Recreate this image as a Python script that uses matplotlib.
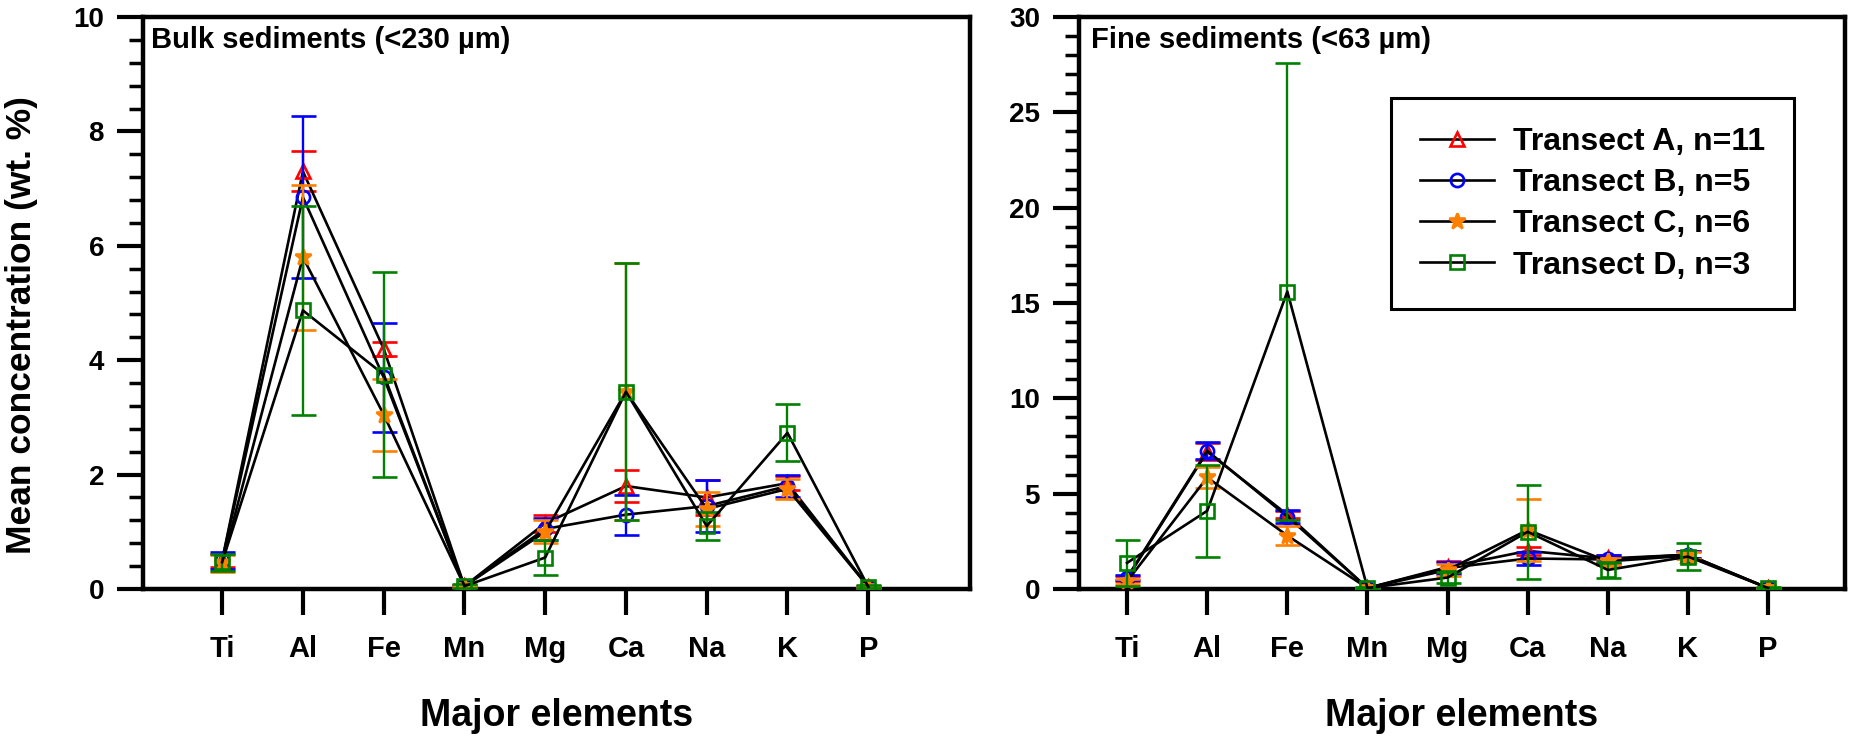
import numpy as np
import matplotlib
matplotlib.use("Agg")
import matplotlib.pyplot as plt
from matplotlib.ticker import MultipleLocator

plt.rcParams["font.family"] = ["Liberation Sans", "DejaVu Sans"]
plt.rcParams["font.weight"] = "bold"

elements = ["Ti", "Al", "Fe", "Mn", "Mg", "Ca", "Na", "K", "P"]
transects = ["Transect A, n=11", "Transect B, n=5", "Transect C, n=6", "Transect D, n=3"]

# bulk sediments (<230 um), mean and error per transect
bulk_A = [0.50, 7.30, 4.20, 0.05, 1.15, 1.80, 1.60, 1.85, 0.04]
bulk_A_err = [0.12, 0.35, 0.12, 0.02, 0.15, 0.28, 0.30, 0.12, 0.02]
bulk_B = [0.50, 6.85, 3.70, 0.05, 1.05, 1.30, 1.45, 1.80, 0.04]
bulk_B_err = [0.15, 1.42, 0.95, 0.02, 0.20, 0.35, 0.45, 0.20, 0.02]
bulk_C = [0.45, 5.80, 3.05, 0.05, 1.00, 3.45, 1.40, 1.75, 0.04]
bulk_C_err = [0.15, 1.27, 0.63, 0.02, 0.20, 2.25, 0.30, 0.18, 0.02]
bulk_D = [0.47, 4.87, 3.75, 0.05, 0.55, 3.45, 1.10, 2.73, 0.04]
bulk_D_err = [0.15, 1.82, 1.79, 0.03, 0.30, 2.25, 0.25, 0.50, 0.03]

# fine sediments (<63 um)
fine_A = [0.55, 7.20, 3.90, 0.05, 1.15, 2.00, 1.60, 1.80, 0.05]
fine_A_err = [0.15, 0.45, 0.20, 0.02, 0.30, 0.20, 0.20, 0.20, 0.02]
fine_B = [0.60, 7.25, 3.80, 0.05, 1.10, 1.60, 1.55, 1.80, 0.05]
fine_B_err = [0.15, 0.45, 0.35, 0.02, 0.30, 0.35, 0.25, 0.20, 0.02]
fine_C = [0.40, 5.85, 2.80, 0.05, 1.00, 3.10, 1.45, 1.75, 0.05]
fine_C_err = [0.15, 0.55, 0.50, 0.02, 0.30, 1.63, 0.20, 0.20, 0.02]
fine_D = [1.37, 4.10, 15.60, 0.05, 0.60, 3.00, 1.00, 1.70, 0.05]
fine_D_err = [1.20, 2.40, 12.00, 0.03, 0.30, 2.45, 0.40, 0.70, 0.03]

colors = ["#FF0000", "#0000FF", "#FF8000", "#008000"]
markers = ["^", "o", "*", "s"]
faces = ["none", "none", "#FF8000", "none"]

x = np.arange(1, len(elements) + 1)

fig = plt.figure(figsize=(18.55, 7.41), dpi=100)
ax1 = fig.add_axes([143 / 1855, 1 - 589 / 741, 827 / 1855, 572 / 741])
ax2 = fig.add_axes([1079 / 1855, 1 - 589 / 741, 766 / 1855, 572 / 741])


def draw_panel(ax, means, errs):
    handles = []
    for i in range(4):
        c = ax.errorbar(x, means[i], yerr=errs[i], fmt="-", color="k", lw=1.9,
                        marker=markers[i], ms=12 if markers[i] == "*" else 9.5,
                        mfc=faces[i], mec=colors[i], mew=1.9,
                        ecolor=colors[i], elinewidth=1.7, capsize=9, capthick=1.7,
                        zorder=3 + i)
        handles.append(c[0])
    ax.set_xticks(x)
    ax.set_xticklabels(elements)
    ax.tick_params(axis="x", which="major", direction="out", length=19, width=3,
                   labelsize=21, pad=14)
    ax.tick_params(axis="y", which="major", direction="out", length=19, width=3,
                   labelsize=20, pad=9)
    ax.tick_params(axis="y", which="minor", direction="out", length=10, width=2.5)
    for s in ax.spines.values():
        s.set_linewidth(3.2)
    ax.set_xlabel("Major elements", fontsize=27, fontweight="bold")
    ax.xaxis.set_label_coords(0.5, -0.19)
    return handles


draw_panel(ax1, [bulk_A, bulk_B, bulk_C, bulk_D],
           [bulk_A_err, bulk_B_err, bulk_C_err, bulk_D_err])
ax1.set_xlim(0.02, 10.26)
ax1.set_ylim(0, 10)
ax1.yaxis.set_major_locator(MultipleLocator(2))
ax1.yaxis.set_minor_locator(MultipleLocator(0.4))
ax1.text(0.01, 0.984, "Bulk sediments (<230 µm)", transform=ax1.transAxes,
         ha="left", va="top", fontsize=21, fontweight="bold")

handles = draw_panel(ax2, [fine_A, fine_B, fine_C, fine_D],
                     [fine_A_err, fine_B_err, fine_C_err, fine_D_err])
ax2.set_xlim(0.40, 9.96)
ax2.set_ylim(0, 30)
ax2.yaxis.set_major_locator(MultipleLocator(5))
ax2.yaxis.set_minor_locator(MultipleLocator(1))
ax2.text(0.016, 0.984, "Fine sediments (<63 µm)", transform=ax2.transAxes,
         ha="left", va="top", fontsize=21, fontweight="bold")

leg = ax2.legend(handles, transects, loc="upper right", bbox_to_anchor=(0.933, 0.858),
                 borderaxespad=0, fancybox=False, edgecolor="k", framealpha=1,
                 prop={"size": 23, "weight": "bold"}, handlelength=2.3,
                 handletextpad=0.6, labelspacing=0.35, borderpad=0.9)
leg.get_frame().set_linewidth(2.2)

fig.text(22 / 1855, 1 - 325 / 741, "Mean concentration (wt. %)", rotation=90,
         ha="center", va="center", fontsize=25.5, fontweight="bold")

fig.savefig("out.png", dpi=100)
